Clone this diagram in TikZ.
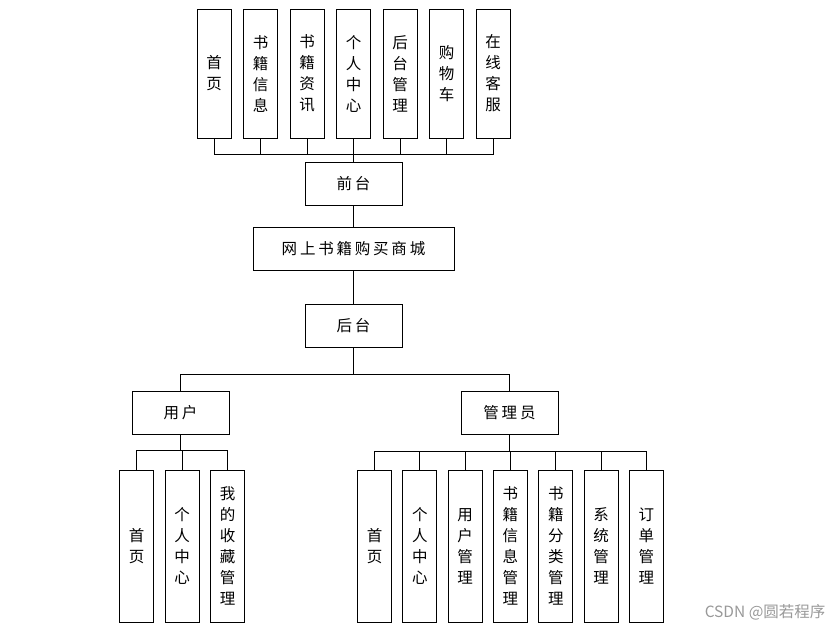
\documentclass[tikz,border=0pt]{standalone}
\usepackage{fontspec}
\newfontfamily\cjk{Noto Sans CJK SC}
\newfontfamily\cjkwide[LetterSpace=18]{Noto Sans CJK SC}
\usepackage{tikz}
\usetikzlibrary{positioning, calc}

\tikzset{
	vbox/.style={draw, line width=0.9pt, minimum width=34pt, inner sep=0pt, align=center, font=\cjk\fontsize{15.5}{21}\selectfont},
	hbox/.style={draw, line width=0.9pt, minimum width=97pt, minimum height=43pt, inner sep=0pt, font=\cjkwide\fontsize{15.5}{18}\selectfont},
	link/.style={line width=0.9pt}
}

\begin{document}
\begin{tikzpicture}[x=1pt, y=1pt]
			\useasboundingbox (0,0) rectangle (836,-633);
			
			% middle column
			\node[hbox] (qiantai) at (353.5,-184) {前台};
			\node[hbox, minimum width=201pt] (mall) at (353.5,-248.5) {网上书籍购买商城};
			\node[hbox] (houtai) at (353.5,-325.5) {后台};
			\node[hbox] (yonghu) at (180.5,-412.5) {用户};
			\node[hbox] (admin) at (509.5,-412.5) {管理员};
			
			\draw[link] (qiantai) -- (mall);
			\draw[link] (mall) -- (houtai);
			\draw[link] (houtai.south) -- ++(0,-27) -| (yonghu.north);
			\draw[link] (houtai.south) -- ++(0,-27) -| (admin.north);
			
			% front pages
			\foreach \i/\t in {1/首\\页, 2/书\\籍\\信\\息, 3/书\\籍\\资\\讯, 4/个\\人\\中\\心, 5/后\\台\\管\\理, 6/购\\物\\车, 7/在\\线\\客\\服}
			{
			\node[vbox, minimum height=129pt] (top\i) at ({214+46.5*(\i-1)},-73.5) {\t};
			\draw[link] (qiantai.north) -- ++(0,8) -| (top\i.south);
			}
			
			% user pages
			\foreach \i/\t in {1/首\\页, 2/个\\人\\中\\心, 3/我\\的\\收\\藏\\管\\理}
			{
			\node[vbox, minimum height=152pt] (user\i) at ({136.5+45.5*(\i-1)},-546) {\t};
			\draw[link] (yonghu.south) -- ++(0,-16) -| (user\i.north);
			}
			
			% admin pages
			\foreach \i/\t in {1/首\\页, 2/个\\人\\中\\心, 3/用\\户\\管\\理, 4/书\\籍\\信\\息\\管\\理, 5/书\\籍\\分\\类\\管\\理, 6/系\\统\\管\\理, 7/订\\单\\管\\理}
			{
			\node[vbox, minimum height=152pt] (adm\i) at ({374.5+45.33*(\i-1)},-546) {\t};
			\draw[link] (admin.south) -- ++(0,-17) -| (adm\i.north);
			}
			
			\node[anchor=east, text=black!40, font=\cjk\fontsize{15.5}{18}\selectfont] (mark) at (829,-612) {CSDN @圆若程序};
\end{tikzpicture}
\end{document}
